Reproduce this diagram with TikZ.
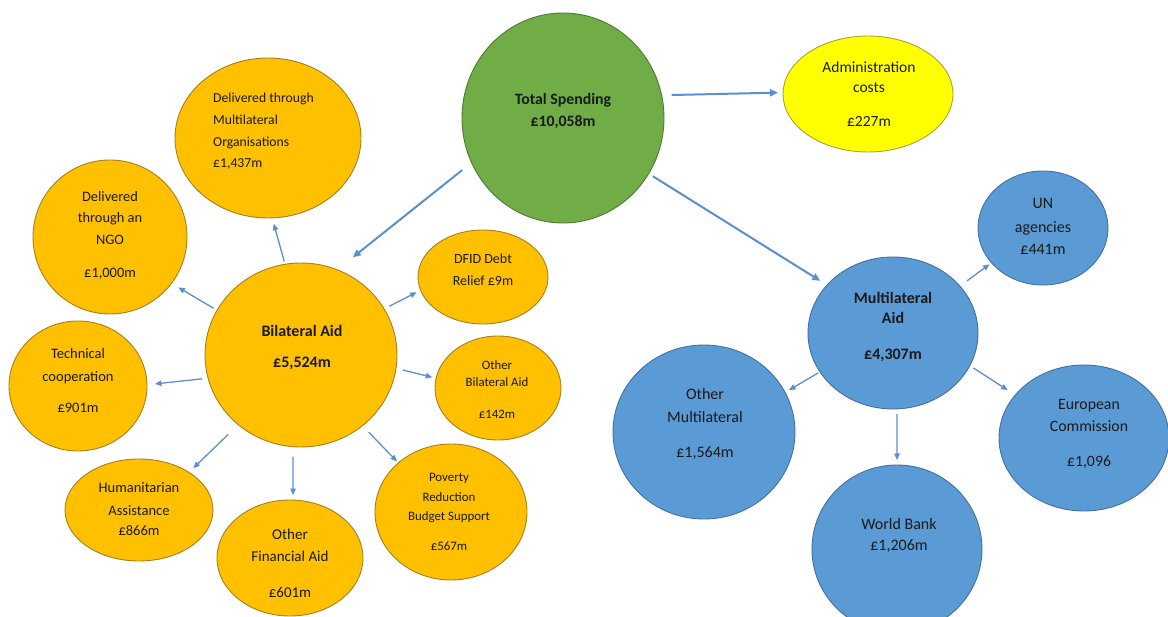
\documentclass[tikz,border=0pt]{standalone}
\usepackage{fontspec}
\setmainfont{Carlito}
\usetikzlibrary{shapes.geometric,arrows.meta}

\definecolor{orangefill}{HTML}{FFC000}
\definecolor{orangeline}{HTML}{A4801E}
\definecolor{greenfill}{HTML}{70AD47}
\definecolor{greenline}{HTML}{4E7A31}
\definecolor{yellowfill}{HTML}{FFFF00}
\definecolor{yellowline}{HTML}{A3A33A}
\definecolor{bluefill}{HTML}{5B9BD5}
\definecolor{blueline}{HTML}{41719C}
\definecolor{arrowcol}{HTML}{5B8FD0}
\definecolor{inkcol}{HTML}{1A1A1A}

% one line of text: name, x, y (middle of line), size, weight, text
\newcommand\txtline[6]{\node[txt, font=\fontsize{#4}{#4}\selectfont#5] (#1) at (#2,{#3+0.3*#4}) {#6};}
\newcommand\txtleft[6]{\node[txt, anchor=base west, font=\fontsize{#4}{#4}\selectfont#5] (#1) at (#2,{#3+0.3*#4}) {#6};}

\tikzset{
  bubble/.style={ellipse, draw, line width=0.9pt, inner sep=0pt, outer sep=0pt},
  orb/.style={bubble, fill=orangefill, draw=orangeline},
  grb/.style={bubble, fill=greenfill, draw=greenline},
  ylb/.style={bubble, fill=yellowfill, draw=yellowline},
  blb/.style={bubble, fill=bluefill, draw=blueline},
  txt/.style={anchor=base, inner sep=0pt, text=inkcol},
  bigarrow/.style={draw=arrowcol, line width=2pt, -{Triangle[length=8pt,width=7pt]}},
  smallarrow/.style={draw=arrowcol, line width=1.3pt, -{Triangle[length=6.5pt,width=5.5pt]}},
}

\newcommand\bubblesize[2]{minimum width=#1pt, minimum height=#2pt}

\begin{document}
\begin{tikzpicture}[x=1pt, y=-1pt]
\useasboundingbox (0,0) rectangle (1168,617);
\fill[white] (0,0) rectangle (1168,617);

% ---- bubbles ----
\node[grb, minimum width=202pt, minimum height=210pt] (tot) at (563,118) {};
\node[ylb, minimum width=170pt, minimum height=116pt] (adm) at (868,94) {};

\node[orb, minimum width=186pt, minimum height=160pt] (mlo) at (268,138) {};
\node[orb, minimum width=154pt, minimum height=154pt] (ngo) at (110,237) {};
\node[orb, minimum width=192pt, minimum height=184pt] (bil) at (301,355) {};
\node[orb, minimum width=138pt, minimum height=130pt] (tec) at (78,386) {};
\node[orb, minimum width=148pt, minimum height=102pt] (hum) at (139,510) {};
\node[orb, minimum width=146pt, minimum height=116pt] (ofa) at (290,558) {};
\node[orb, minimum width=130pt, minimum height=94pt] (dfid) at (483,277) {};
\node[orb, minimum width=126pt, minimum height=104pt] (oba) at (498,388) {};
\node[orb, minimum width=152pt, minimum height=136pt] (pov) at (451,512) {};

\node[blb, minimum width=170pt, minimum height=152pt] (mla) at (893,333) {};
\node[blb, minimum width=130pt, minimum height=114pt] (un) at (1043,228) {};
\node[blb, minimum width=182pt, minimum height=174pt] (oml) at (704,432) {};
\node[blb, minimum width=170pt, minimum height=146pt] (ec) at (1084,438) {};
\node[blb, minimum width=170pt, minimum height=168pt] (wb) at (897,549) {};

% ---- texts ----
\txtline{tot1}{563}{100}{15.8}{\bfseries}{Total Spending}
\txtline{tot2}{563}{122}{15.8}{\bfseries}{£10,058m}

\txtline{adm1}{869}{68}{15.5}{}{Administration}
\txtline{adm2}{869}{88}{15.5}{}{costs}
\txtline{adm3}{869}{122}{15.5}{}{£227m}

\txtleft{mlo1}{213}{98}{13.7}{}{Delivered through}
\txtleft{mlo2}{213}{120}{13.7}{}{Multilateral}
\txtleft{mlo3}{213}{142}{13.7}{}{Organisations}
\txtleft{mlo4}{213}{163}{13.7}{}{£1,437m}

\txtline{ngo1}{110}{197}{14.4}{}{Delivered}
\txtline{ngo2}{110}{218}{14.4}{}{through an}
\txtline{ngo3}{110}{240}{14.4}{}{NGO}
\txtline{ngo4}{110}{273}{14.4}{}{£1,000m}

\txtline{bil1}{302}{332}{16}{\bfseries}{Bilateral Aid}
\txtline{bil2}{302}{363}{16}{\bfseries}{£5,524m}

\txtline{tec1}{78}{354}{14.5}{}{Technical}
\txtline{tec2}{78}{377}{14.5}{}{cooperation}
\txtline{tec3}{78}{408}{14.5}{}{£901m}

\txtline{hum1}{139}{488}{14.5}{}{Humanitarian}
\txtline{hum2}{139}{511}{14.5}{}{Assistance}
\txtline{hum3}{139}{531}{14.5}{}{£866m}

\txtline{ofa1}{290}{535}{15}{}{Other}
\txtline{ofa2}{290}{557}{15}{}{Financial Aid}
\txtline{ofa3}{290}{593}{15}{}{£601m}

\txtline{dfid1}{483}{259}{14}{}{DFID Debt}
\txtline{dfid2}{483}{281}{14}{}{Relief £9m}

\txtline{oba1}{497}{366}{12.8}{}{Other}
\txtline{oba2}{497}{383}{12.8}{}{Bilateral Aid}
\txtline{oba3}{497}{415}{12.8}{}{£142m}

\txtline{pov1}{449}{478}{12.9}{}{Poverty}
\txtline{pov2}{449}{498}{12.9}{}{Reduction}
\txtline{pov3}{449}{517}{12.9}{}{Budget Support}
\txtline{pov4}{449}{547}{12.9}{}{£567m}

\txtline{mla1}{893}{299}{16}{\bfseries}{Multilateral}
\txtline{mla2}{893}{319}{16}{\bfseries}{Aid}
\txtline{mla3}{893}{355}{16}{\bfseries}{£4,307m}

\txtline{un1}{1043}{204}{16}{}{UN}
\txtline{un2}{1043}{228}{16}{}{agencies}
\txtline{un3}{1043}{250}{16}{}{£441m}

\txtline{oml1}{705}{395}{16}{}{Other}
\txtline{oml2}{705}{418}{16}{}{Multilateral}
\txtline{oml3}{705}{453}{16}{}{£1,564m}

\txtline{ec1}{1089}{405}{15.8}{}{European}
\txtline{ec2}{1089}{427}{15.8}{}{Commission}
\txtline{ec3}{1089}{462}{15.8}{}{£1,096}

\txtline{wb1}{899}{525}{16}{}{World Bank}
\txtline{wb2}{899}{546}{16}{}{£1,206m}

% ---- connectors from the total ----
\draw[bigarrow, shorten <=10pt, shorten >=5pt] (tot.13) -- (adm.179);
\draw[bigarrow, shorten <=5pt, shorten >=8pt] (tot.-33.5) -- (mla.144);
\draw[bigarrow, shorten <=12pt, shorten >=20pt] (tot.206) -- (bil.67.6);

% ---- bilateral breakdown ----
\draw[smallarrow, shorten <=3pt, shorten >=6pt] (bil.100.7) -- (mlo.-87.6);
\draw[smallarrow, shorten <=4pt, shorten >=8pt] (bil.152.6) -- (ngo.-37.5);
\draw[smallarrow, shorten <=6pt, shorten >=8pt] (bil.194.1) -- (tec.1);
\draw[smallarrow, shorten <=6pt, shorten >=4.5pt] (bil.29.4) -- (dfid.192.8);
\draw[smallarrow, shorten <=7pt, shorten >=4pt] (bil.-8.6) -- (oba.171.7);
\draw[smallarrow, shorten <=9pt, shorten >=2pt] (bil.-49.8) -- (pov.137.3);
\draw[smallarrow, shorten <=14pt, shorten >=6pt] (bil.228.8) -- (hum.37.4);
\draw[smallarrow, shorten <=10pt, shorten >=5pt] (bil.-95) -- (ofa.87);

% ---- multilateral breakdown ----
\draw[smallarrow, shorten <=8.7pt, shorten >=2.5pt] (mla.35.1) -- (un.214.9);
\draw[smallarrow, shorten <=2pt, shorten >=4.6pt] (mla.208) -- (oml.26.2);
\draw[smallarrow, shorten <=5pt, shorten >=5pt] (mla.-87) -- (wb.90);
\draw[smallarrow, shorten <=4.3pt, shorten >=9pt] (mla.-23.7) -- (ec.148.8);
\end{tikzpicture}
\end{document}
